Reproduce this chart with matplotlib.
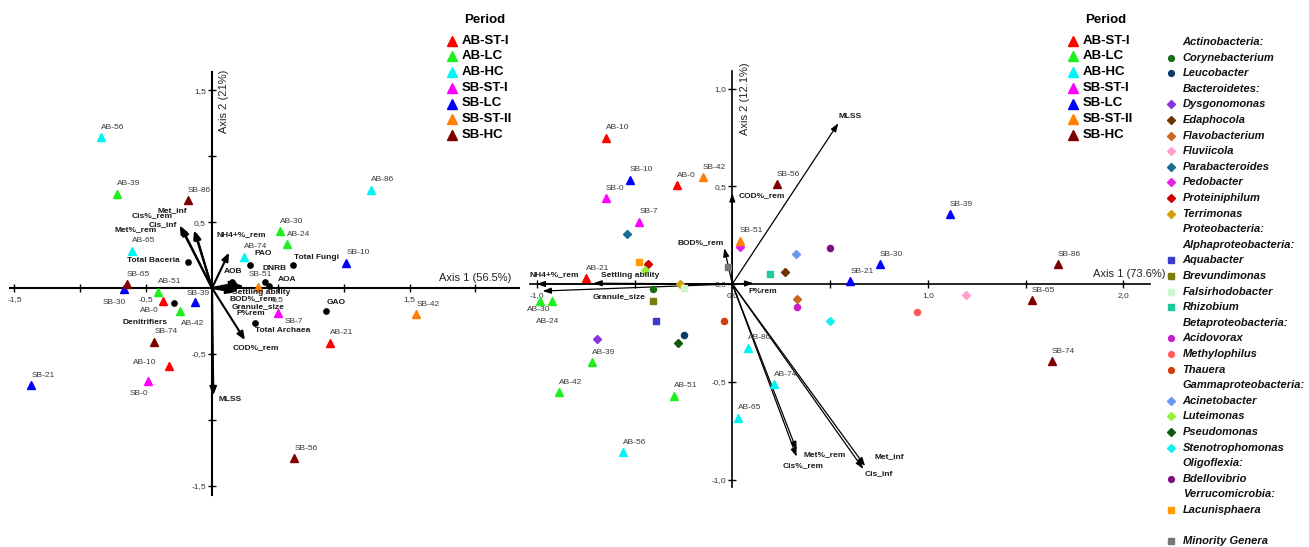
import matplotlib
matplotlib.use("Agg")
import matplotlib.pyplot as plt
from matplotlib.ticker import FixedLocator, FuncFormatter

plt.rcParams['font.family'] = ['Liberation Sans', 'DejaVu Sans']

# ---------------------------------------------------------------- data
samples = ['AB-0', 'AB-10', 'AB-21', 'AB-24', 'AB-30', 'AB-39', 'AB-42', 'AB-51',
           'AB-56', 'AB-65', 'AB-74', 'AB-86', 'SB-0', 'SB-7', 'SB-10', 'SB-21',
           'SB-30', 'SB-39', 'SB-42', 'SB-51', 'SB-56', 'SB-65', 'SB-74', 'SB-86']
sample_period = ['AB-ST-I', 'AB-ST-I', 'AB-ST-I', 'AB-LC', 'AB-LC', 'AB-LC', 'AB-LC', 'AB-LC',
                 'AB-HC', 'AB-HC', 'AB-HC', 'AB-HC', 'SB-ST-I', 'SB-ST-I', 'SB-LC', 'SB-LC',
                 'SB-LC', 'SB-LC', 'SB-ST-II', 'SB-ST-II', 'SB-HC', 'SB-HC', 'SB-HC', 'SB-HC']
periods = ['AB-ST-I', 'AB-LC', 'AB-HC', 'SB-ST-I', 'SB-LC', 'SB-ST-II', 'SB-HC']

# Left ordination (Axis 1 56.5 %, Axis 2 21 %)
left_axis1 = [-0.371, -0.323, 0.899, 0.573, 0.520, -0.720, -0.242, -0.407,
              -0.843, -0.606, 0.240, 1.205, -0.487, 0.500, 1.020, -1.371,
              -0.669, -0.126, 1.551, 0.346, 0.624, -0.649, -0.437, -0.184]
left_axis2 = [-0.096, -0.591, -0.416, 0.332, 0.431, 0.717, -0.175, -0.028,
              1.143, 0.284, 0.236, 0.745, -0.705, -0.193, 0.193, -0.738,
              -0.010, -0.106, -0.198, 0.010, -1.293, 0.030, -0.408, 0.667]

# Right ordination (Axis 1 73.6 %, Axis 2 12.1 %)
right_axis1 = [-0.281, -0.644, -0.747, -0.922, -0.985, -0.719, -0.886, -0.298,
               -0.559, 0.031, 0.213, 0.082, -0.646, -0.476, -0.525, 0.604,
               0.755, 1.114, -0.151, 0.039, 0.227, 1.531, 1.635, 1.664]
right_axis2 = [0.506, 0.748, 0.029, -0.085, -0.085, -0.401, -0.554, -0.571,
               -0.861, -0.684, -0.513, -0.326, 0.438, 0.319, 0.532, 0.015,
               0.102, 0.356, 0.546, 0.222, 0.511, -0.082, -0.394, 0.100]

# Environmental vectors, left panel
left_vectors = ['Cis%_rem', 'Met%_rem', 'Met_inf', 'Cis_inf', 'NH4+%_rem', 'Settling ability',
                'BOD%_rem', 'Granule_size', 'P%rem', 'COD%_rem', 'MLSS']
left_vec_x = [-0.245, -0.232, -0.136, -0.128, 0.129, 0.240, 0.200, 0.200, 0.170, 0.250, 0.010]
left_vec_y = [0.475, 0.462, 0.436, 0.430, 0.268, 0.015, 0.040, -0.020, -0.030, -0.395, -0.814]

# Microbial groups, left panel
left_groups = ['Total Baceria', 'PAO', 'Total Fungi', 'DNRB', 'AOA', 'AOB', 'GAO',
               'Total Archaea', 'Denitrifiers']
left_grp_x = [-0.184, 0.286, 0.616, 0.399, 0.432, 0.149, 0.864, 0.323, -0.288]
left_grp_y = [0.200, 0.177, 0.172, 0.048, 0.018, 0.048, -0.175, -0.264, -0.112]

# Environmental vectors, right panel
right_vectors = ['MLSS', 'COD%_rem', 'BOD%_rem', 'NH4+%_rem', 'Settling ability', 'Granule_size',
                 'P%rem', 'Met%_rem', 'Cis%_rem', 'Met_inf', 'Cis_inf']
right_vec_x = [0.542, 0.000, -0.041, -1.000, -0.710, -0.970, 0.107, 0.329, 0.329, 0.679, 0.670]
right_vec_y = [0.822, 0.464, 0.183, 0.000, 0.004, -0.036, 0.004, -0.849, -0.883, -0.931, -0.946]

# Genera, right panel
genera = ['Corynebacterium', 'Leucobacter', 'Dysgonomonas', 'Edaphocola', 'Flavobacterium',
          'Fluviicola', 'Parabacteroides', 'Pedobacter', 'Proteiniphilum', 'Terrimonas',
          'Aquabacter', 'Brevundimonas', 'Falsirhodobacter', 'Rhizobium', 'Acidovorax',
          'Methylophilus', 'Thauera', 'Acinetobacter', 'Luteimonas', 'Pseudomonas',
          'Stenotrophomonas', 'Bdellovibrio', 'Lacunisphaera', 'Minority Genera']
genus_taxon = ['Actinobacteria', 'Actinobacteria', 'Bacteroidetes', 'Bacteroidetes',
               'Bacteroidetes', 'Bacteroidetes', 'Bacteroidetes', 'Bacteroidetes',
               'Bacteroidetes', 'Bacteroidetes', 'Alphaproteobacteria', 'Alphaproteobacteria',
               'Alphaproteobacteria', 'Alphaproteobacteria', 'Betaproteobacteria',
               'Betaproteobacteria', 'Betaproteobacteria', 'Gammaproteobacteria',
               'Gammaproteobacteria', 'Gammaproteobacteria', 'Gammaproteobacteria',
               'Oligoflexia', 'Verrucomicrobia', 'Other']
genus_axis1 = [-0.406, -0.245, -0.692, 0.268, 0.331, 1.195, -0.537, 0.039, -0.430, -0.268,
               -0.392, -0.407, -0.247, 0.191, 0.331, 0.946, -0.040, 0.324, -0.447, -0.276,
               0.498, 0.501, -0.477, -0.020]
genus_axis2 = [-0.027, -0.261, -0.281, 0.061, -0.077, -0.058, 0.254, 0.188, 0.100, 0.000,
               -0.188, -0.085, -0.022, 0.053, -0.116, -0.145, -0.188, 0.152, 0.070, -0.300,
               -0.191, 0.186, 0.114, 0.085]

# ---------------------------------------------------------------- styles
period_colors = {'AB-ST-I': '#ff0000', 'AB-LC': '#1ef01e', 'AB-HC': '#00f5f5',
                 'SB-ST-I': '#ff00ff', 'SB-LC': '#0000ff', 'SB-ST-II': '#ff7f00',
                 'SB-HC': '#7f0000'}
genus_colors = ['#157015', '#0d3b66', '#8a33e0', '#6b3300', '#cc6622', '#ff9fcf', '#1b6c94',
                '#e01fe8', '#d00000', '#d4a012', '#3a3acc', '#7c7c0c', '#ccf7cc', '#20c99a',
                '#c81ec8', '#ff5a5a', '#d43c0c', '#6a98f0', '#96f03a', '#0f5a0f', '#14f0f0',
                '#7f0f7f', '#ff9a00', '#777777']
taxon_headers = {'Actinobacteria': ['Actinobacteria:'], 'Bacteroidetes': ['Bacteroidetes:'],
                 'Alphaproteobacteria': ['Proteobacteria:', 'Alphaproteobacteria:'],
                 'Betaproteobacteria': ['Betaproteobacteria:'],
                 'Gammaproteobacteria': ['Gammaproteobacteria:'], 'Oligoflexia': ['Oligoflexia:'],
                 'Verrucomicrobia': ['Verrucomicrobia:'], 'Other': ['']}
taxon_marker = {'Actinobacteria': 'o', 'Bacteroidetes': 'D', 'Alphaproteobacteria': 's',
                'Betaproteobacteria': 'o', 'Gammaproteobacteria': 'D', 'Oligoflexia': 'o',
                'Verrucomicrobia': 's', 'Other': 's'}
marker_size = {'o': 4.4, 'D': 4.0, 's': 4.6}

# label offsets in pixels (dx, dy) from the mark; default is just above
left_label_offset = {'SB-30': (-21, -13), 'AB-0': (-23, -10), 'SB-39': (-9, 8),
                     'AB-42': (1, -12), 'AB-10': (-36, 3), 'SB-0': (-18, -13),
                     'SB-7': (7, -8), 'SB-51': (-9, 12)}
right_label_offset = {'AB-30': (-13, -9), 'AB-24': (-16, -21)}

left_vec_label = {'Cis%_rem': (-7, 10, 'right'), 'Met%_rem': (-25, -2, 'right'),
                  'Met_inf': (-7, 20, 'right'), 'Cis_inf': (-18, 7, 'right'),
                  'NH4+%_rem': (-12, 18, 'left'), 'Settling ability': (-12, -6, 'left'),
                  'BOD%_rem': (-9, -16, 'left'), 'Granule_size': (-7, -16, 'left'),
                  'P%rem': (2, -22, 'left'), 'COD%_rem': (-12, -8, 'left'),
                  'MLSS': (5, -4, 'left')}
left_grp_label = {'Total Baceria': (-8, 1, 'right'), 'PAO': (5, 11, 'left'),
                  'Total Fungi': (1, 8, 'left'), 'DNRB': (-2, 13, 'left'),
                  'AOA': (9, 6, 'left'), 'AOB': (-8, 10, 'left'), 'GAO': (1, 9, 'left'),
                  'Total Archaea': (0, -8, 'left'), 'Denitrifiers': (-7, -20, 'right')}
right_vec_label = {'MLSS': (0, 7, 'left'), 'COD%_rem': (6, -2, 'left'),
                   'BOD%_rem': (-1, 6, 'right'), 'NH4+%_rem': (-7, 9, 'left'),
                   'Settling ability': (8, 8, 'left'), 'Granule_size': (50, -6, 'left'),
                   'P%rem': (-5, -8, 'left'), 'Met%_rem': (7, -5, 'left'),
                   'Cis%_rem': (-14, -9, 'left'), 'Met_inf': (9, 9, 'left'),
                   'Cis_inf': (1, -5, 'left')}

W, H = 1309, 547
fig = plt.figure(figsize=(W / 100, H / 100), dpi=100)
PT = 0.72  # points per pixel at 100 dpi


def fx(px):
    return px / W


def fy(py):
    return 1 - py / H


def decimal_comma(labeled):
    def f(v, pos):
        if any(abs(v - l) < 1e-6 for l in labeled):
            return f'{v:.1f}'.replace('.', ',')
        return ''
    return FuncFormatter(f)


def make_panel(rect, origin, scale, xbounds, ybounds, xticks, xlab, yticks, ylab, lw):
    x0, y0, x1, y1 = rect
    ax = fig.add_axes([fx(x0), fy(y1), (x1 - x0) / W, (y1 - y0) / H])
    ox, oy = origin
    ax.set_xlim((x0 - ox) / scale, (x1 - ox) / scale)
    ax.set_ylim((oy - y1) / scale, (oy - y0) / scale)
    ax.patch.set_visible(False)
    for s in ('top', 'right'):
        ax.spines[s].set_visible(False)
    ax.spines['left'].set_position(('data', 0))
    ax.spines['bottom'].set_position(('data', 0))
    ax.spines['left'].set_bounds(*ybounds)
    ax.spines['bottom'].set_bounds(*xbounds)
    for s in ('left', 'bottom'):
        ax.spines[s].set_linewidth(lw)
    ax.xaxis.set_major_locator(FixedLocator(xticks))
    ax.yaxis.set_major_locator(FixedLocator(yticks))
    ax.xaxis.set_major_formatter(decimal_comma(xlab))
    ax.yaxis.set_major_formatter(decimal_comma(ylab))
    ax.tick_params(direction='inout', length=6, width=1, labelsize=6,
                   labelcolor='#333333', color='black')
    ax.tick_params(axis='x', pad=3)
    ax.tick_params(axis='y', pad=1.5)
    return ax


def draw_samples(ax, xs, ys, offsets):
    for per in periods:
        idx = [i for i, p in enumerate(sample_period) if p == per]
        ax.plot([xs[i] for i in idx], [ys[i] for i in idx], ls='none', marker='^',
                ms=5.4, color=period_colors[per], mec=period_colors[per], zorder=5)
    for name, x, y in zip(samples, xs, ys):
        dx, dy = offsets.get(name, (0, 10))
        ax.annotate(name, (x, y), xytext=(dx * PT, dy * PT), textcoords='offset points',
                    ha='left', va='center', fontsize=6, color='#3a3a3a', zorder=6)


def draw_vectors(ax, names, xs, ys, labels, lw, scale, head):
    for name, x, y in zip(names, xs, ys):
        ax.annotate('', xy=(x, y), xytext=(0, 0),
                    arrowprops=dict(arrowstyle=head, lw=lw, color='black',
                                    shrinkA=0, shrinkB=0, mutation_scale=scale), zorder=4)
        dx, dy, ha = labels[name]
        ax.annotate(name, (x, y), xytext=(dx * PT, dy * PT), textcoords='offset points',
                    ha=ha, va='center', fontsize=6, fontweight='bold', color='#1a1a1a',
                    zorder=6)


# ---------------------------------------------------------------- left panel
axL = make_panel((0, 60, 540, 500), (212, 288), 131.7,
                 (-1.53, 2.33), (-1.574, 1.643),
                 [-1.5, -1.0, -0.5, 0.5, 1.0, 1.5, 2.0], [-1.5, -0.5, 0.5, 1.5],
                 [-1.5, -1.0, -0.5, 0.5, 1.0, 1.5], [-1.5, -0.5, 0.5, 1.5], 1.5)
draw_vectors(axL, left_vectors, left_vec_x, left_vec_y, left_vec_label, 1.5, 8,
             '-|>,head_length=0.6,head_width=0.25')
axL.plot(left_grp_x, left_grp_y, ls='none', marker='o', ms=3.8, color='black', zorder=5)
for name, x, y in zip(left_groups, left_grp_x, left_grp_y):
    dx, dy, ha = left_grp_label[name]
    axL.annotate(name, (x, y), xytext=(dx * PT, dy * PT), textcoords='offset points',
                 ha=ha, va='center', fontsize=6, fontweight='bold', color='#1a1a1a', zorder=6)
draw_samples(axL, left_axis1, left_axis2, left_label_offset)

# ---------------------------------------------------------------- right panel
axR = make_panel((520, 55, 1160, 500), (732.3, 284), 195.5,
                 (-1.035, 2.136), (-1.038, 1.09),
                 [-1.0, -0.5, 0.0, 0.5, 1.0, 1.5, 2.0], [-1.0, 0.0, 1.0, 2.0],
                 [-1.0, -0.5, 0.0, 0.5, 1.0], [-1.0, -0.5, 0.0, 0.5, 1.0], 1.2)
draw_vectors(axR, right_vectors, right_vec_x, right_vec_y, right_vec_label, 0.9, 7,
             '-|>,head_length=0.7,head_width=0.25')
for g, tx, x, y, c in zip(genera, genus_taxon, genus_axis1, genus_axis2, genus_colors):
    m = taxon_marker[tx]
    axR.plot([x], [y], ls='none', marker=m, ms=marker_size[m], color=c, mec=c, zorder=5)
draw_samples(axR, right_axis1, right_axis2, right_label_offset)

# ---------------------------------------------------------------- axis titles
title_kw = dict(fontsize=8, color='#222222')
fig.text(fx(439), fy(278), 'Axis 1 (56.5%)', ha='left', va='center', **title_kw)
fig.text(fx(224), fy(101), 'Axis 2 (21%)', ha='center', va='center', rotation=90, **title_kw)
fig.text(fx(1093), fy(274), 'Axis 1 (73.6%)', ha='left', va='center', **title_kw)
fig.text(fx(745), fy(99), 'Axis 2 (12.1%)', ha='center', va='center', rotation=90, **title_kw)

# ---------------------------------------------------------------- legends
lax = fig.add_axes([0, 0, 1, 1])
lax.set_xlim(0, W)
lax.set_ylim(H, 0)
lax.axis('off')

for key_x, title_x in ((452, 485), (1073, 1105.5)):
    lax.text(title_x, 20, 'Period', ha='center', va='center', fontsize=9.5,
             fontweight='bold', color='black')
    for i, per in enumerate(periods):
        yy = 40.7 + i * 15.7
        lax.plot([key_x], [yy], ls='none', marker='^', ms=7.7,
                 color=period_colors[per], mec=period_colors[per])
        lax.text(key_x + 10, yy, per, ha='left', va='center', fontsize=9.5,
                 fontweight='bold', color='black')

row = 0
prev = None
step = 15.6
top = 42.0
for g, tx, c in zip(genera, genus_taxon, genus_colors):
    if tx != prev:
        for h in taxon_headers[tx]:
            lax.text(1182.7, top + row * step, h, ha='left', va='center', fontsize=8,
                     fontweight='bold', fontstyle='italic', color='#111111')
            row += 1
        prev = tx
    yy = top + row * step
    m = taxon_marker[tx]
    lax.plot([1170.7], [yy], ls='none', marker=m, ms=marker_size[m] * 0.95, color=c, mec=c)
    lax.text(1182.7, yy, g, ha='left', va='center', fontsize=8,
             fontweight='bold', fontstyle='italic', color='#111111')
    row += 1

fig.savefig('out.png', dpi=100)
